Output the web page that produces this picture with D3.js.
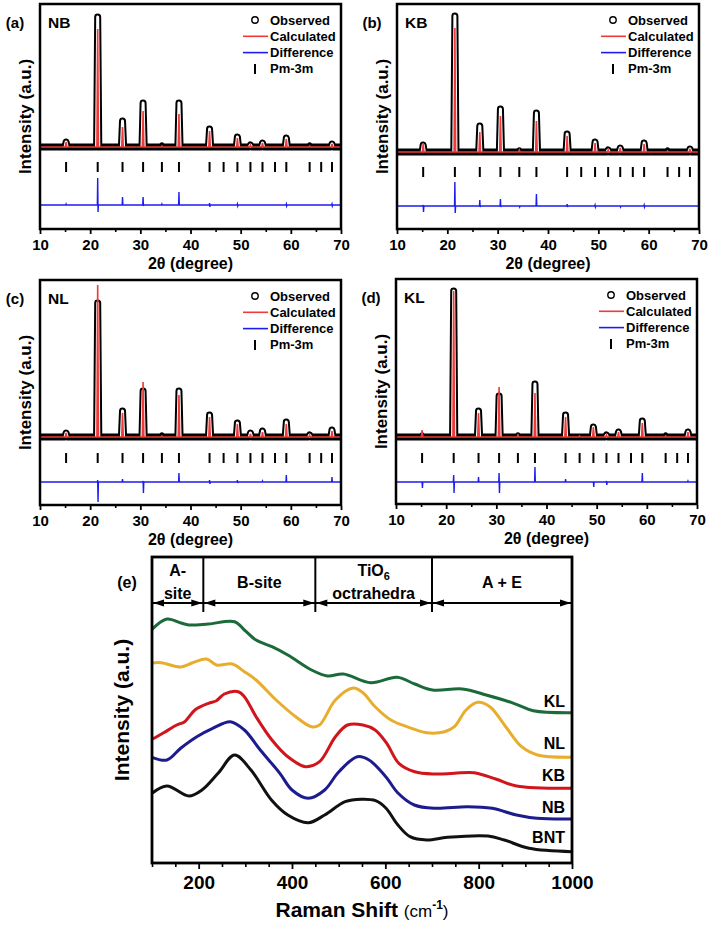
<!DOCTYPE html>
<html>
<head>
<meta charset="utf-8">
<script src="https://cdn.jsdelivr.net/npm/d3@7/dist/d3.min.js"></script>
<style>
  body { margin: 0; background: #fff; }
  svg text { font-family: "Liberation Sans", Arial, Helvetica, sans-serif; }
</style>
</head>
<body>
<svg id="fig" width="708" height="926"></svg>
<script>
// ---------- XRD data (2theta in degrees, intensity in a.u.) ----------
var xrdRange = [10, 70];
var xrdMajor = [10, 20, 30, 40, 50, 60, 70];
var xrdMinor = [15, 25, 35, 45, 55, 65];

// Pm-3m reflection positions (tick marks)
var reflections = [15.2, 21.5, 26.45, 30.55, 34.3, 37.7, 43.8, 46.6, 49.35, 51.95, 54.35, 56.85, 59.1, 63.75, 66.05, 68.2];

var xrdSamples = ["NB", "KB", "NL", "KL"];

// observed peak heights above background, one per reflection
var obsNB = [5, 130, 26, 44, 1, 44, 18, 0, 10, 2, 4, 0, 9, 1, 0, 3];
var obsKB = [7, 136, 26, 43, 1, 39, 18, 0, 10, 2, 4, 0, 9, 1, 0, 3];
var obsNL = [4, 134, 26, 46, 1, 46, 22, 0, 14, 4, 6, 0, 15, 2, 0, 7];
var obsKL = [1, 146, 26, 41, 1, 53, 22, 0, 10, 2, 5, 0, 16, 1, 0, 5];

// calculated peak heights
var calcNB = [5, 118, 20, 36, 1, 33, 16, 0, 9, 2, 4, 0, 8, 1, 0, 3];
var calcKB = [8, 124, 20, 36, 2, 31, 16, 0, 9, 2, 4, 0, 8, 1, 0, 3];
var calcNL = [4, 152, 24, 55, 1, 42, 20, 0, 13, 3, 5, 0, 13, 2, 0, 6];
var calcKL = [7, 146, 24, 50, 2, 44, 20, 1, 10, 2, 5, 0, 14, 1, 0, 5];

// difference curve spikes (up / down) at each reflection
var diffUpNB = [1, 27, 8, 8, 1, 13, 2, 0, 1, 0, 0, 0, 1, 0, 0, 1];
var diffDnNB = [0, -7, 0, -1, 0, 0, -2, 0, -1, 0, 0, 0, -1, 0, 0, -1];
var diffUpKB = [1, 24, 6, 7, 0, 12, 2, 0, 1, 0, 0, 0, 1, 0, 0, 0];
var diffDnKB = [-6, -7, -1, -1, -1, 0, -1, 0, -1, 0, -1, 0, -1, 0, 0, 0];
var diffUpNL = [0, 2, 3, 1, 0, 9, 2, 0, 2, 0, 1, 0, 7, 0, 0, 5];
var diffDnNL = [0, -20, 0, -11, 0, 0, -2, 0, -1, 0, 0, 0, 0, 0, 0, 0];
var diffUpKL = [0, 7, 5, 9, 0, 15, 3, 0, 0, 1, 0, 0, 9, 0, 0, 1];
var diffDnKL = [-6, -11, 0, -11, 0, 0, 0, 0, -5, -3, 0, 0, 0, 0, 0, 0];

// vertical offsets of the tick row and difference curve
var tickRow = [-20, -20, -21, -21];
var diffOffset = [-58, -54, -45, -45];

var legendItems = ["Observed", "Calculated", "Difference", "Pm-3m"];

// ---------- Raman data (shift in cm-1, intensity in a.u.) ----------
var ramanRange = [100, 1000];
var ramanMajor = [200, 400, 600, 800, 1000];
var ramanMinor = [100, 150, 250, 300, 350, 450, 500, 550, 650, 700, 750, 850, 900, 950];

var ramanNames = ["KL", "NL", "KB", "NB", "BNT"];
var ramanKL = [[100,233.7],[132,244],[162,240],[179,238],[221,239],[277,241.3],[298,233],[323,223],[357,216.3],[391,208],[442,193],[476,187],[510,189],[569,180.3],[625,185.7],[663,179],[701,173],[765,174],[816,168],[875,159.7],[917,152.3],[1000,150.3]];
var ramanNL = [[100,200],[120,200.3],[162,196],[187,200.3],[217,204],[238,198],[272,199],[298,191.3],[323,183],[366,163],[408,146.3],[442,136.3],[459,138],[493,163],[531,175],[552,170.3],[578,156.3],[612,143],[646,136.3],[688,130.3],[727,131.3],[748,136.3],[773,153],[798,160.7],[824,156.3],[858,136.3],[892,116.3],[926,108],[1000,105.7]];
var ramanKB = [[100,123.7],[124,130],[153,138],[170,141.3],[192,153],[221,159.7],[238,162.3],[255,169],[285,171.3],[298,166.3],[323,146.3],[357,123],[391,106.3],[429,96.3],[459,101.3],[493,126.3],[519,138],[552,138],[578,133],[603,119.7],[629,99.7],[663,91.3],[705,89],[748,89.7],[790,90.3],[838,83.7],[881,77],[1000,74.7]];
var ramanNB = [[100,105.7],[132,103],[162,115],[196,126.3],[230,134.7],[268,141.3],[298,133],[332,113],[374,89.7],[400,73],[435,64.7],[470,73],[500,91],[540,106.3],[565,103],[601,86.3],[627,70],[662,58],[706,54.7],[776,56.3],[829,54.7],[881,48],[925,44.7],[1000,44]];
var ramanBNT = [[100,69.7],[132,77],[179,67],[207,73],[242,90],[277,108],[312,93],[356,63],[391,48],[435,40.3],[470,48],[514,61.3],[549,63.7],[579,62.3],[601,55],[627,38],[653,26.3],[689,23],[733,25.7],[820,27],[855,23],[908,14.7],[1000,11.3]];

var regionEdges = [100, 210, 450, 700, 1000];
var regionLabels = [["A-", "site"], ["B-site"], ["TiO|6", "octrahedra"], ["A + E"]];

// ---------- layout ----------
var xrdPanels = [
  {tag: "(a)", x0: 40,  x1: 341, y0: 4,   y1: 229, yDom: [-82, 143]},
  {tag: "(b)", x0: 397, x1: 699, y0: 4,   y1: 229, yDom: [-77, 148]},
  {tag: "(c)", x0: 40,  x1: 341, y0: 280, y1: 505, yDom: [-68, 157]},
  {tag: "(d)", x0: 396, x1: 697, y0: 279, y1: 504, yDom: [-67, 158]}
];
var obsAll = [obsNB, obsKB, obsNL, obsKL];
var calcAll = [calcNB, calcKB, calcNL, calcKL];
var upAll = [diffUpNB, diffUpKB, diffUpNL, diffUpKL];
var dnAll = [diffDnNB, diffDnKB, diffDnNL, diffDnKL];

var red = "#f03a3a", blue = "#1c1cf0";
var svg = d3.select("#fig");
var defs = svg.append("defs");

function bottomAxis(g, scale, yPos, major, minor, size, pad, fs) {
  g.append("g").attr("transform", "translate(0," + yPos + ")")
    .call(d3.axisBottom(scale).tickValues(minor).tickSize(size - 2).tickFormat(""))
    .call(function(a) { a.select(".domain").remove(); a.selectAll("line").attr("stroke-width", 1.6); });
  g.append("g").attr("transform", "translate(0," + yPos + ")")
    .call(d3.axisBottom(scale).tickValues(major).tickSize(size).tickPadding(pad).tickFormat(d3.format("d")))
    .call(function(a) {
      a.select(".domain").remove();
      a.selectAll("line").attr("stroke-width", 1.8);
      a.selectAll("text").attr("font-size", fs).attr("font-weight", "bold").attr("fill", "#000")
        .style("font-family", "'Liberation Sans', Arial, sans-serif");
    });
}

xrdPanels.forEach(function(p, i) {
  var x = d3.scaleLinear().domain(xrdRange).range([p.x0, p.x1]);
  var y = d3.scaleLinear().domain(p.yDom).range([p.y1, p.y0]);
  var g = svg.append("g");
  var line = d3.line().x(function(d) { return x(d[0]); }).y(function(d) { return y(d[1]); });

  defs.append("clipPath").attr("id", "clip" + i).append("rect")
    .attr("x", p.x0).attr("y", p.y0).attr("width", p.x1 - p.x0).attr("height", p.y1 - p.y0);
  var plot = g.append("g").attr("clip-path", "url(#clip" + i + ")");

  var obs = obsAll[i], calc = calcAll[i];
  var obsPts = [[xrdRange[0], 0]], calcPts = [[xrdRange[0], 0]], diffPts = [[xrdRange[0], diffOffset[i]]];
  reflections.forEach(function(r, k) {
    if (obs[k] > 0) obsPts.push([r - 0.22, 0], [r, obs[k]], [r + 0.22, 0]);
    if (calc[k] > 0) calcPts.push([r - 0.15, 0], [r, calc[k]], [r + 0.15, 0]);
    if (upAll[i][k] !== 0 || dnAll[i][k] !== 0) {
      diffPts.push([r - 0.07, diffOffset[i]], [r, diffOffset[i] + upAll[i][k]],
                   [r + 0.07, diffOffset[i] + dnAll[i][k]], [r + 0.14, diffOffset[i]]);
    }
  });
  obsPts.push([xrdRange[1], 0]); calcPts.push([xrdRange[1], 0]); diffPts.push([xrdRange[1], diffOffset[i]]);

  // observed: hollow band of overlapping circles
  plot.append("path").attr("d", line(obsPts)).attr("fill", "none").attr("stroke", "#000")
    .attr("stroke-width", 7).attr("stroke-linejoin", "round").attr("stroke-linecap", "round");
  reflections.forEach(function(r, k) {
    if (obs[k] >= 2) {
      plot.append("path").attr("d", line([[r - 0.22, 0], [r, obs[k]], [r + 0.22, 0]]))
        .attr("fill", "none").attr("stroke", "#fff").attr("stroke-width", 3)
        .attr("stroke-linejoin", "round");
    }
  });
  plot.append("path").attr("d", line(calcPts)).attr("fill", "none").attr("stroke", red).attr("stroke-width", 1.6);

  // reflection ticks
  plot.selectAll(".rt").data(reflections).enter().append("line")
    .attr("x1", function(d) { return x(d); }).attr("x2", function(d) { return x(d); })
    .attr("y1", y(tickRow[i]) - 5).attr("y2", y(tickRow[i]) + 5)
    .attr("stroke", "#000").attr("stroke-width", 2);

  plot.append("path").attr("d", line(diffPts)).attr("fill", "none").attr("stroke", blue).attr("stroke-width", 1.4);

  // frame and axis
  g.append("rect").attr("x", p.x0).attr("y", p.y0).attr("width", p.x1 - p.x0).attr("height", p.y1 - p.y0)
    .attr("fill", "none").attr("stroke", "#000").attr("stroke-width", 2.5);
  bottomAxis(g, x, p.y1 + 1, xrdMajor, xrdMinor, 4, 5, 15);
  g.append("text").attr("x", (p.x0 + p.x1) / 2).attr("y", p.y1 + 34).attr("dy", ".35em")
    .attr("text-anchor", "middle").attr("font-size", 16).attr("font-weight", "bold")
    .text("2\u03B8 (degree)");
  g.append("text").attr("transform", "translate(" + (p.x0 - 15) + "," + ((p.y0 + p.y1) / 2) + ") rotate(-90)")
    .attr("dy", ".35em").attr("text-anchor", "middle").attr("font-size", 17).attr("font-weight", "bold")
    .text("Intensity (a.u.)");
  g.append("text").attr("x", p.x0 - 25).attr("y", p.y0 + 19).attr("dy", ".35em")
    .attr("text-anchor", "middle").attr("font-size", 15).attr("font-weight", "bold").text(p.tag);
  g.append("text").attr("x", p.x0 + 8).attr("y", p.y0 + 19).attr("dy", ".35em")
    .attr("font-size", 15.5).attr("font-weight", "bold").text(xrdSamples[i]);

  // legend
  var lg = g.append("g").attr("transform", "translate(" + (p.x1 - 86) + "," + (p.y0 + 16) + ")");
  legendItems.forEach(function(name, k) {
    var yy = k * 16.3;
    if (k === 0) lg.append("circle").attr("cx", 0).attr("cy", yy).attr("r", 3.2)
      .attr("fill", "none").attr("stroke", "#000").attr("stroke-width", 1.4);
    if (k === 1 || k === 2) lg.append("line").attr("x1", -12).attr("x2", 13).attr("y1", yy).attr("y2", yy)
      .attr("stroke", k === 1 ? red : blue).attr("stroke-width", 1.6);
    if (k === 3) lg.append("line").attr("x1", 0).attr("x2", 0).attr("y1", yy - 5).attr("y2", yy + 5)
      .attr("stroke", "#000").attr("stroke-width", 2);
    lg.append("text").attr("x", 15).attr("y", yy).attr("dy", ".35em")
      .attr("font-size", 13).attr("font-weight", "bold").text(name);
  });
});

// ---------- Raman panel (e) ----------
var E = {x0: 152, x1: 572, y0: 557, y1: 863};
var rx = d3.scaleLinear().domain(ramanRange).range([E.x0, E.x1]);
var ry = d3.scaleLinear().domain([0, 306]).range([E.y1, E.y0]);
var ramanSeries = [ramanKL, ramanNL, ramanKB, ramanNB, ramanBNT];
var ramanColors = ["#1b6b3a", "#e8ad2c", "#d0151c", "#1c1c8e", "#111111"];
var ramanLabelY = [701, 743, 775, 807, 837];

var ge = svg.append("g");
var rline = d3.line().curve(d3.curveCatmullRom.alpha(0.5))
  .x(function(d) { return rx(d[0]); }).y(function(d) { return ry(d[1]); });

ge.selectAll(".rl").data(ramanSeries).enter().append("path")
  .attr("d", rline).attr("fill", "none")
  .attr("stroke", function(d, i) { return ramanColors[i]; })
  .attr("stroke-width", 3).attr("stroke-linejoin", "round");

ramanNames.forEach(function(n, i) {
  ge.append("text").attr("x", E.x1 - 7).attr("y", ramanLabelY[i]).attr("dy", ".35em")
    .attr("text-anchor", "end").attr("font-size", 16).attr("font-weight", "bold").text(n);
});

// header with region arrows
var hy = E.y0 + 46;
ge.append("line").attr("x1", E.x0).attr("x2", E.x1).attr("y1", hy).attr("y2", hy)
  .attr("stroke", "#000").attr("stroke-width", 2);
regionEdges.slice(1, -1).forEach(function(v) {
  ge.append("line").attr("x1", rx(v)).attr("x2", rx(v)).attr("y1", E.y0).attr("y2", E.y0 + 55)
    .attr("stroke", "#000").attr("stroke-width", 2);
});
regionLabels.forEach(function(lab, i) {
  var a = rx(regionEdges[i]) + 1, b = rx(regionEdges[i + 1]) - 1;
  ge.append("path").attr("d", "M" + a + "," + hy + "l11,-3.5v7z").attr("fill", "#000");
  ge.append("path").attr("d", "M" + b + "," + hy + "l-11,-3.5v7z").attr("fill", "#000");
  var cx = (a + b) / 2;
  lab.forEach(function(s, k) {
    var yy = lab.length === 1 ? E.y0 + 25 : E.y0 + 13 + k * 23;
    var t = ge.append("text").attr("x", cx).attr("y", yy).attr("dy", ".35em")
      .attr("text-anchor", "middle").attr("font-size", 16).attr("font-weight", "bold");
    var parts = s.split("|");
    t.append("tspan").text(parts[0]);
    if (parts[1]) t.append("tspan").attr("font-size", 11).attr("dy", "4").text(parts[1]);
  });
});

ge.append("rect").attr("x", E.x0).attr("y", E.y0).attr("width", E.x1 - E.x0).attr("height", E.y1 - E.y0)
  .attr("fill", "none").attr("stroke", "#000").attr("stroke-width", 2.8);
bottomAxis(ge, rx, E.y1 + 1, ramanMajor, ramanMinor, 5, 7, 19);

ge.append("text").attr("transform", "translate(" + (E.x0 - 30) + "," + ((E.y0 + E.y1) / 2) + ") rotate(-90)")
  .attr("dy", ".35em").attr("text-anchor", "middle").attr("font-size", 21).attr("font-weight", "bold")
  .text("Intensity (a.u.)");
ge.append("text").attr("x", E.x0 - 25).attr("y", E.y0 + 25).attr("dy", ".35em")
  .attr("text-anchor", "middle").attr("font-size", 16).attr("font-weight", "bold").text("(e)");

var xt = ge.append("text").attr("x", (E.x0 + E.x1) / 2).attr("y", 910).attr("dy", ".35em")
  .attr("text-anchor", "middle").attr("font-weight", "bold").attr("font-size", 21);
xt.append("tspan").text("Raman Shift ");
xt.append("tspan").attr("font-size", 17).attr("font-weight", "normal").text("(cm");
xt.append("tspan").attr("font-size", 12).attr("dy", -8).text("-1");
xt.append("tspan").attr("font-size", 17).attr("font-weight", "normal").attr("dy", 8).text(")");
</script>
</body>
</html>
